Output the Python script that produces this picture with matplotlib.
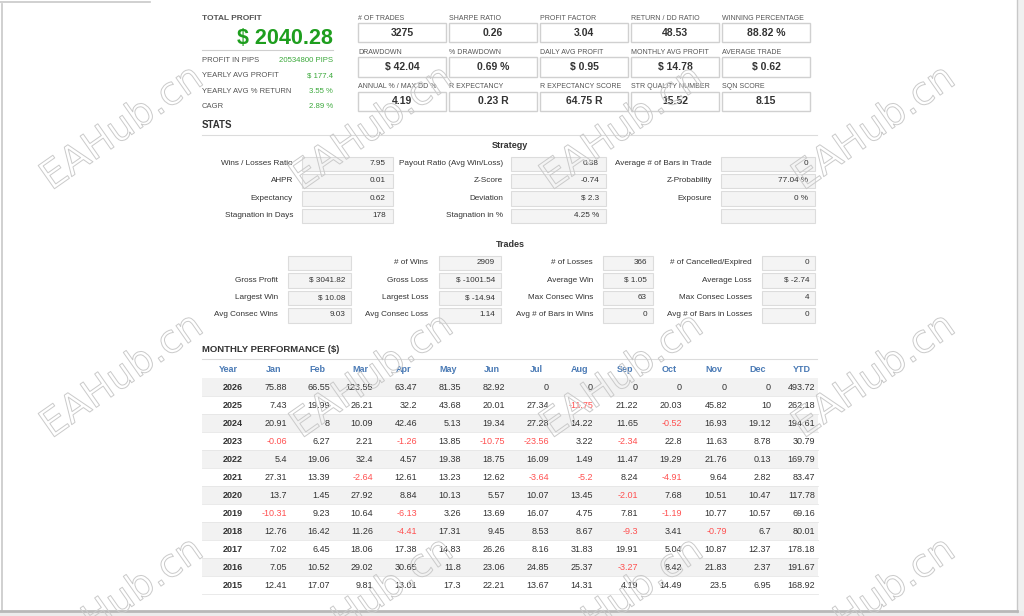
import matplotlib
matplotlib.use("Agg")
import matplotlib.pyplot as plt
from matplotlib.patches import Rectangle
import matplotlib.patheffects as pe

# ---------------- data ----------------
total_profit = "$ 2040.28"
summary_labels = ["PROFIT IN PIPS", "YEARLY AVG PROFIT", "YEARLY AVG % RETURN", "CAGR"]
summary_values = ["20534800 PIPS", "$ 177.4", "3.55 %", "2.89 %"]

key_labels = [
    ["# OF TRADES", "SHARPE RATIO", "PROFIT FACTOR", "RETURN / DD RATIO", "WINNING PERCENTAGE"],
    ["DRAWDOWN", "% DRAWDOWN", "DAILY AVG PROFIT", "MONTHLY AVG PROFIT", "AVERAGE TRADE"],
    ["ANNUAL % / MAX DD %", "R EXPECTANCY", "R EXPECTANCY SCORE", "STR QUALITY NUMBER", "SQN SCORE"],
]
key_values = [
    ["3275", "0.26", "3.04", "48.53", "88.82 %"],
    ["$ 42.04", "0.69 %", "$ 0.95", "$ 14.78", "$ 0.62"],
    ["4.19", "0.23 R", "64.75 R", "15.52", "8.15"],
]

strategy_labels = [
    ["Wins / Losses Ratio", "AHPR", "Expectancy", "Stagnation in Days"],
    ["Payout Ratio (Avg Win/Loss)", "Z-Score", "Deviation", "Stagnation in %"],
    ["Average # of Bars in Trade", "Z-Probability", "Exposure", ""],
]
strategy_values = [
    ["7.95", "0.01", "0.62", "178"],
    ["0.38", "-0.74", "$ 2.3", "4.25 %"],
    ["0", "77.04 %", "0 %", ""],
]

trades_labels = [
    ["", "Gross Profit", "Largest Win", "Avg Consec Wins"],
    ["# of Wins", "Gross Loss", "Largest Loss", "Avg Consec Loss"],
    ["# of Losses", "Average Win", "Max Consec Wins", "Avg # of Bars in Wins"],
    ["# of Cancelled/Expired", "Average Loss", "Max Consec Losses", "Avg # of Bars in Losses"],
]
trades_values = [
    ["", "$ 3041.82", "$ 10.08", "9.03"],
    ["2909", "$ -1001.54", "$ -14.94", "1.14"],
    ["366", "$ 1.05", "63", "0"],
    ["0", "$ -2.74", "4", "0"],
]

month_headers = ["Year", "Jan", "Feb", "Mar", "Apr", "May", "Jun", "Jul", "Aug",
                 "Sep", "Oct", "Nov", "Dec", "YTD"]
years = [2026, 2025, 2024, 2023, 2022, 2021, 2020, 2019, 2018, 2017, 2016, 2015]
monthly = [
    [75.88, 66.55, 123.55, 63.47, 81.35, 82.92, 0, 0, 0, 0, 0, 0],
    [7.43, 19.99, 26.21, 32.2, 43.68, 20.01, 27.34, -11.75, 21.22, 20.03, 45.82, 10],
    [20.91, 8, 10.09, 42.46, 5.13, 19.34, 27.28, 14.22, 11.65, -0.52, 16.93, 19.12],
    [-0.06, 6.27, 2.21, -1.26, 13.85, -10.75, -23.56, 3.22, -2.34, 22.8, 11.63, 8.78],
    [5.4, 19.06, 32.4, 4.57, 19.38, 18.75, 16.09, 1.49, 11.47, 19.29, 21.76, 0.13],
    [27.31, 13.39, -2.64, 12.61, 13.23, 12.62, -3.64, -5.2, 8.24, -4.91, 9.64, 2.82],
    [13.7, 1.45, 27.92, 8.84, 10.13, 5.57, 10.07, 13.45, -2.01, 7.68, 10.51, 10.47],
    [-10.31, 9.23, 10.64, -6.13, 3.26, 13.69, 16.07, 4.75, 7.81, -1.19, 10.77, 10.57],
    [12.76, 16.42, 11.26, -4.41, 17.31, 9.45, 8.53, 8.67, -9.3, 3.41, -0.79, 6.7],
    [7.02, 6.45, 18.06, 17.38, 14.83, 26.26, 8.16, 31.83, 19.91, 5.04, 10.87, 12.37],
    [7.05, 10.52, 29.02, 30.65, 11.8, 23.06, 24.85, 25.37, -3.27, 8.42, 21.83, 2.37],
    [12.41, 17.07, 9.81, 13.01, 17.3, 22.21, 13.67, 14.31, 4.19, 14.49, 23.5, 6.95],
]
ytd = [493.72, 262.18, 194.61, 30.79, 169.79, 83.47, 117.78, 69.16, 80.01, 178.18, 191.67, 168.92]

watermark = "EAHub.cn"

# ---------------- drawing ----------------
plt.rcParams['font.family'] = ['Liberation Sans', 'DejaVu Sans']
fig = plt.figure(figsize=(10.24, 6.16), dpi=100)
ax = fig.add_axes([0, 0, 1, 1])
ax.set_xlim(0, 1024)
ax.set_ylim(616, 0)
ax.axis('off')

DARK = '#333333'
LABEL = '#555555'
GREEN = '#1e9e1e'
LGREEN = '#3aa83a'
RED = '#ff5050'
BLUE = '#4a7ab5'

def txt(x, y, s, size=6.5, color=DARK, ha='left', weight='normal', **kw):
    ax.text(x, y, s, fontsize=size, color=color, ha=ha, va='center',
            fontweight=weight, **kw)

def box(x, y, w, h, fc='white', ec='#d4d4d4', lw=0.8):
    ax.add_patch(Rectangle((x, y), w, h, facecolor=fc, edgecolor=ec, linewidth=lw))

# window frame
ax.plot([1.5, 1.5], [4, 611], color='#c8c8c8', lw=1.2)
ax.plot([0, 150], [1.5, 1.5], color='#c8c8c8', lw=1.2)
ax.add_patch(Rectangle((1017, 0), 7, 612, facecolor='#f0f0f0', edgecolor='none'))
ax.plot([1017, 1017], [0, 612], color='#c8c8c8', lw=1)
ax.add_patch(Rectangle((0, 611), 1024, 5, facecolor='#ececec', edgecolor='none'))
ax.plot([0, 1017], [611, 611], color='#b8b8b8', lw=2)

# total profit panel
txt(202, 19, "TOTAL PROFIT", size=6, color=LABEL, weight='bold')
txt(333, 38, total_profit, size=15.5, color=GREEN, ha='right', weight='bold')
ax.plot([202, 333], [50, 50], color='#cfcfcf', lw=0.8)
for i, (lab, val) in enumerate(zip(summary_labels, summary_values)):
    y = 60.5 + i * 15.3
    txt(202, y, lab, size=5.5, color=LABEL)
    txt(333, y, val, size=5.6, color=LGREEN, ha='right')

# key metric boxes
for r in range(3):
    for c in range(5):
        x0 = 358 + c * 91
        yl = 18 + r * 34.5
        yb = 22.5 + r * 34.5
        txt(x0, yl, key_labels[r][c], size=5, color=LABEL)
        box(x0, yb, 88, 19.5, fc='white', ec='#d0d0d0', lw=1)
        txt(x0 + 44, yb + 10, key_values[r][c], size=7.5, color=DARK, ha='center', weight='bold')

# STATS
txt(202, 125, "STATS", size=7, color=DARK, weight='bold')
ax.plot([202, 817], [135, 135], color='#dcdcdc', lw=0.8)

# Strategy
txt(510, 146, "Strategy", size=6.5, color=DARK, ha='center', weight='bold')
strat_cols = [(293, 302, 91), (503, 511, 95), (712, 721, 94)]
for c, (lx, bx, bw) in enumerate(strat_cols):
    for r in range(4):
        y = 163.5 + r * 17.4
        txt(lx, y, strategy_labels[c][r], size=5.9, color=DARK, ha='right')
        box(bx, y - 7, bw, 14.5, fc='#f4f4f4', ec='#dcdcdc')
        txt(bx + bw - 7, y, strategy_values[c][r], size=5.9, color=DARK, ha='right')

# Trades
txt(510, 244.5, "Trades", size=6.5, color=DARK, ha='center', weight='bold')
trade_cols = [(278, 288, 63), (428, 439, 62), (593, 603, 50), (752, 762, 53)]
for c, (lx, bx, bw) in enumerate(trade_cols):
    for r in range(4):
        y = 262.8 + r * 17.4
        txt(lx, y, trades_labels[c][r], size=5.9, color=DARK, ha='right')
        box(bx, y - 7, bw, 14.5, fc='#f4f4f4', ec='#dcdcdc')
        txt(bx + bw - 6, y, trades_values[c][r], size=5.9, color=DARK, ha='right')

# Monthly performance
txt(202, 349, "MONTHLY PERFORMANCE ($)", size=6.8, color=DARK, weight='bold')
ax.plot([202, 817], [358.5, 358.5], color='#dcdcdc', lw=0.8)
right_edges = [243, 287, 330, 373, 417, 461, 505, 549, 593, 638, 682, 727, 771, 815]
header_x = [228] + [re - 13 for re in right_edges[1:]]
for hx, h in zip(header_x, month_headers):
    txt(hx, 369, h, size=6.5, color=BLUE, ha='center', weight='bold')

for i, yr in enumerate(years):
    yc = 387.3 + i * 18
    if i % 2 == 0:
        ax.add_patch(Rectangle((202, yc - 9), 616, 18, facecolor='#f2f2f2', edgecolor='none'))
    ax.plot([202, 818], [yc + 9, yc + 9], color='#e6e6e6', lw=0.6)
    txt(right_edges[0], yc, str(yr), size=6.5, color=DARK, ha='right', weight='bold')
    for j, v in enumerate(monthly[i]):
        txt(right_edges[j + 1], yc, f"{v:g}", size=6.5,
            color=RED if v < 0 else DARK, ha='right')
    txt(right_edges[13], yc, f"{ytd[i]:g}", size=6.5, color=DARK, ha='right')

# watermarks
for wy in (128, 376, 600):
    for wx in (122, 372, 622, 874):
        ax.text(wx, wy, watermark, fontsize=28, rotation=35, ha='center', va='center',
                color=(1, 1, 1, 0), zorder=10, family='DejaVu Sans',
                path_effects=[pe.withStroke(linewidth=0.7, foreground='#cacaca')])

fig.savefig("out.png", dpi=100, facecolor='white')
